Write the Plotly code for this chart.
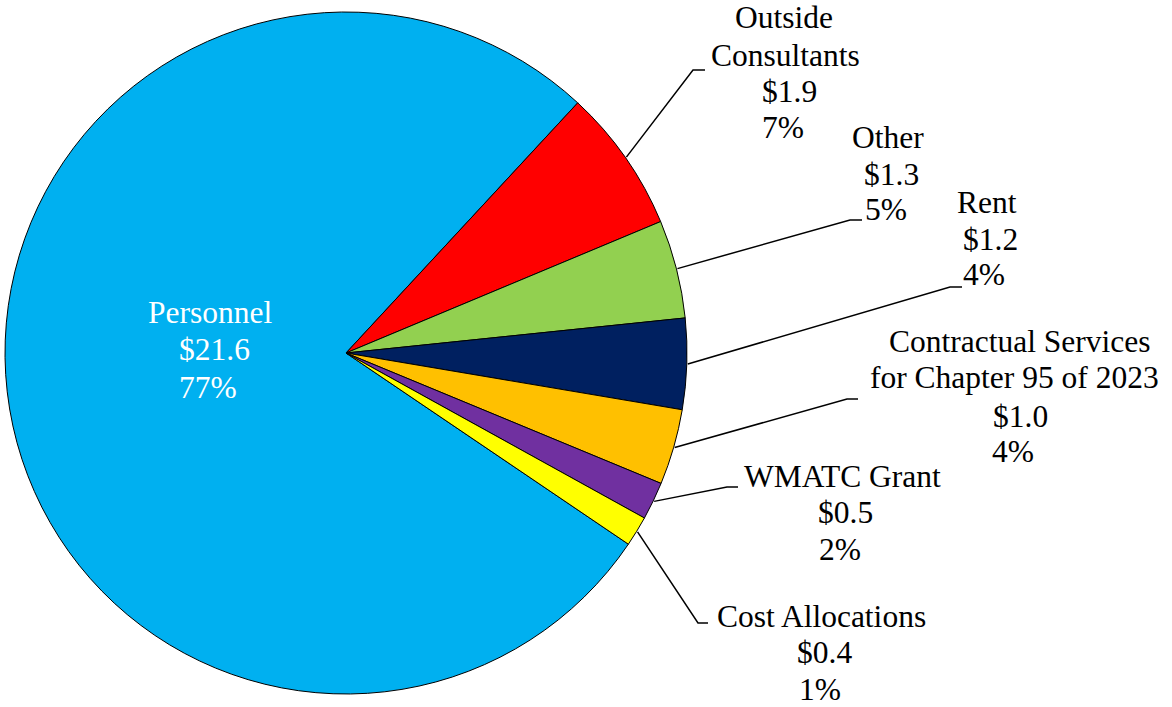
import math
import plotly.graph_objects as go

# Budget categories and amounts (millions of dollars)
categories = [
    "Personnel",
    "Outside Consultants",
    "Other",
    "Rent",
    "Contractual Services for Chapter 95 of 2023",
    "WMATC Grant",
    "Cost Allocations",
]
values = [21.6, 1.9, 1.3, 1.2, 1.0, 0.5, 0.4]
label_names = [
    ["Personnel"],
    ["Outside", "Consultants"],
    ["Other"],
    ["Rent"],
    ["Contractual Services", "for Chapter 95 of 2023"],
    ["WMATC Grant"],
    ["Cost Allocations"],
]
colors = ["#00B0F0", "#FF0000", "#92D050", "#002060", "#FFC000", "#7030A0", "#FFFF00"]

# ---- layout (pixels) ----
W, H = 1172, 707
CX, CY, R = 346, 353, 341
ROTATION = 124.1
FONT = "Liberation Serif"
FS = 31.5

# per-label text line centres (x) and baselines (y)
label_x = [
    [210, 214, 208],
    [784, 785, 789, 783],
    [888, 891, 886],
    [987, 990, 984],
    [1020, 1014, 1020, 1013],
    [842, 845, 840],
    [821, 824, 820],
]
label_base = [
    [323, 360, 398],
    [28, 66, 102, 138],
    [148, 185, 220],
    [213, 250, 285],
    [352, 388, 427, 462],
    [487, 523, 560],
    [627, 663, 700],
]
# leader line elbow and end points for outside labels (None = inside label)
leader_pts = [
    None,
    [(693, 70), (705, 70)],
    [(850, 220), (862, 220)],
    [(950, 287), (962, 287)],
    [(847, 399), (858, 399)],
    [(727, 487), (738, 487)],
    [(698, 623), (708, 623)],
]


def px(x):
    return x / W


def py(y):
    return 1 - y / H


total = sum(values)

fig = go.Figure(
    go.Pie(
        labels=categories,
        values=values,
        sort=False,
        direction="clockwise",
        rotation=ROTATION,
        marker=dict(colors=colors, line=dict(color="#000000", width=1)),
        textinfo="none",
        showlegend=False,
        domain=dict(x=[px(CX - R), px(CX + R)], y=[py(CY + R), py(CY - R)]),
    )
)

annotations = []
shapes = []
angle = ROTATION
for i, (name, v) in enumerate(zip(categories, values)):
    span = v / total * 360
    mid = math.radians(angle + span / 2)
    angle += span
    lines = label_names[i] + [f"${v:.1f}", f"{round(v / total * 100)}%"]
    color = "white" if leader_pts[i] is None else "black"
    for txt, x, b in zip(lines, label_x[i], label_base[i]):
        annotations.append(
            dict(
                text=txt,
                x=px(x),
                y=py(b - 10.6),
                xref="paper",
                yref="paper",
                xanchor="center",
                yanchor="middle",
                showarrow=False,
                font=dict(family=FONT, size=FS, color=color),
            )
        )
    if leader_pts[i] is not None:
        sx = CX + (R + 1) * math.sin(mid)
        sy = CY - (R + 1) * math.cos(mid)
        pts = [(sx, sy)] + leader_pts[i]
        path = "M " + " L ".join(f"{px(x)},{py(y)}" for x, y in pts)
        shapes.append(
            dict(type="path", path=path, xref="paper", yref="paper",
                 line=dict(color="black", width=1.5))
        )

fig.update_layout(
    width=W,
    height=H,
    margin=dict(l=0, r=0, t=0, b=0),
    paper_bgcolor="white",
    plot_bgcolor="white",
    annotations=annotations,
    shapes=shapes,
    font=dict(family=FONT),
)

fig.write_html("out.html")
